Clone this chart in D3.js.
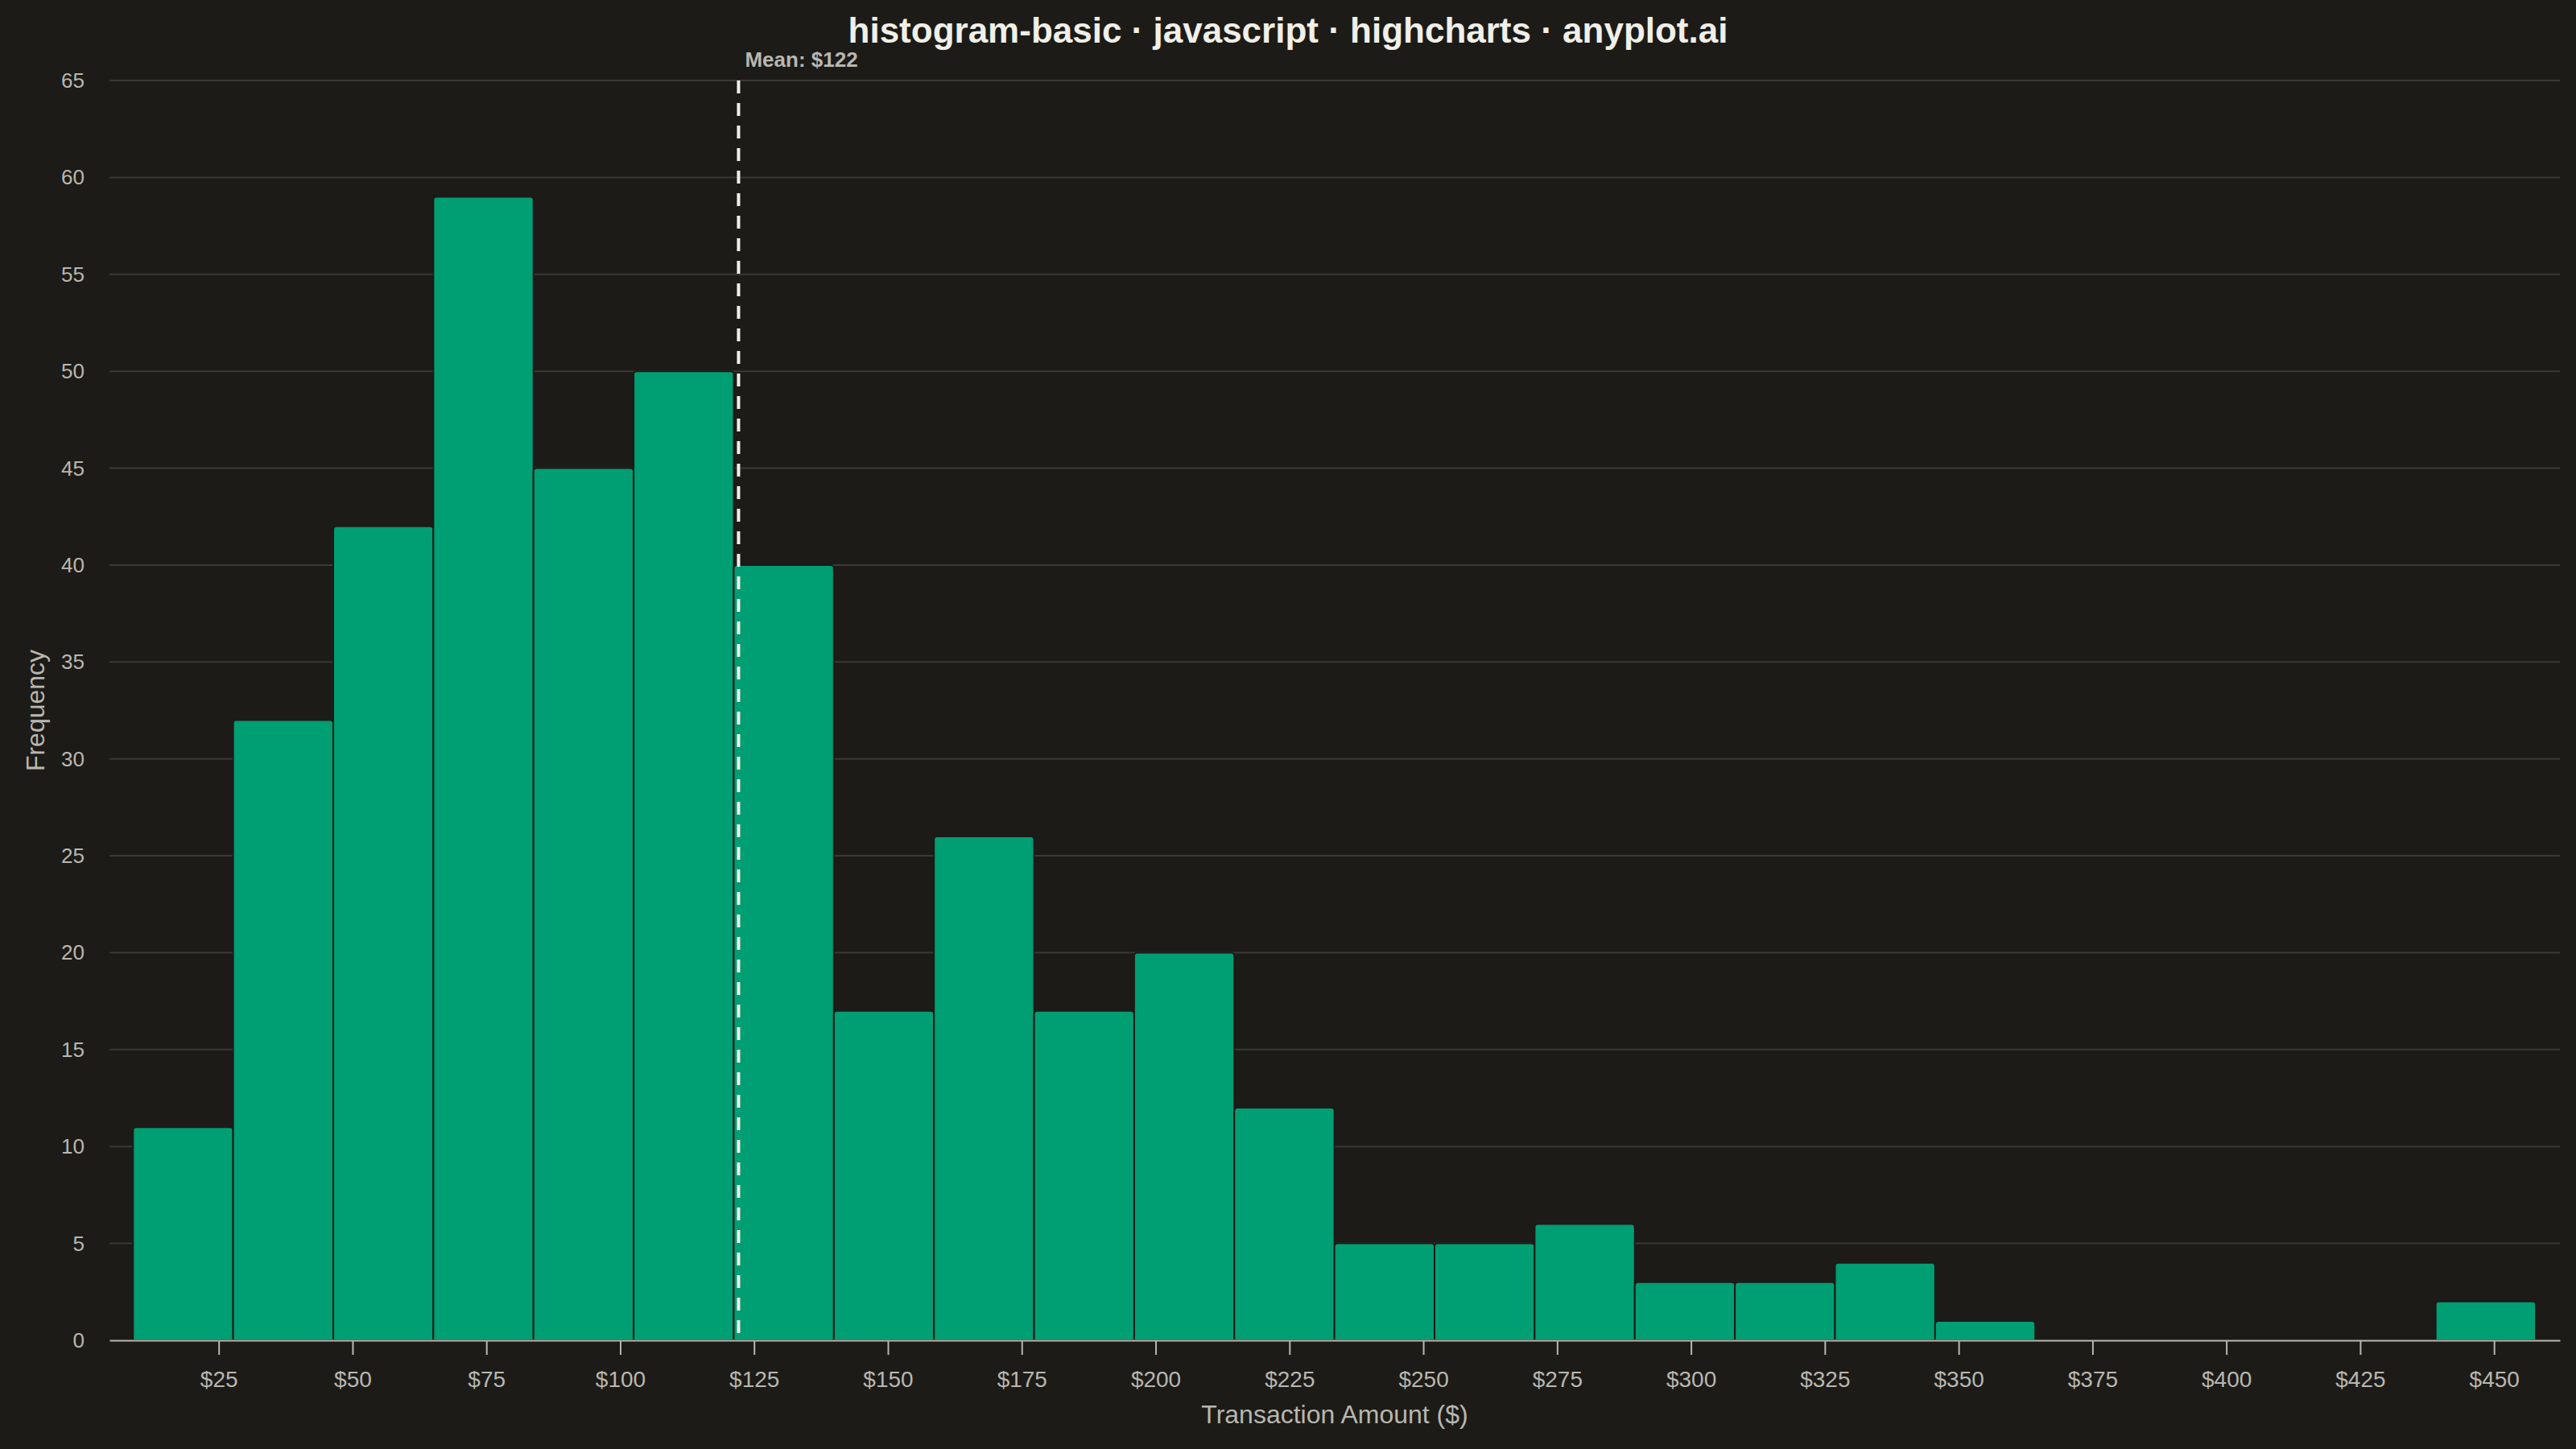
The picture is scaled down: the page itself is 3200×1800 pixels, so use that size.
<!DOCTYPE html>
<html>
<head>
<meta charset="utf-8">
<script src="https://cdn.jsdelivr.net/npm/d3@7"></script>
<style>
  html, body { margin: 0; padding: 0; background: #1c1b17; }
  #chart { width: 3200px; height: 1800px; }
  text { font-family: "Liberation Sans", Arial, Helvetica, sans-serif; }
</style>
</head>
<body>
<div id="chart"></div>
<script>
// histogram bins
const binStarts = [9.0, 27.7, 46.4, 65.1, 83.8, 102.5, 121.2, 139.9, 158.6, 177.3, 196.0, 214.7,
                   233.4, 252.1, 270.8, 289.5, 308.2, 326.9, 345.6, 364.3, 383.0, 401.7, 420.4, 439.1];
const binEnds = [27.7, 46.4, 65.1, 83.8, 102.5, 121.2, 139.9, 158.6, 177.3, 196.0, 214.7, 233.4,
                 252.1, 270.8, 289.5, 308.2, 326.9, 345.6, 364.3, 383.0, 401.7, 420.4, 439.1, 457.8];
const counts = [11, 32, 42, 59, 45, 50, 40, 17, 26, 17, 20, 12, 5, 5, 6, 3, 3, 4, 1, 0, 0, 0, 0, 2];
const xTicks = [25, 50, 75, 100, 125, 150, 175, 200, 225, 250, 275, 300, 325, 350, 375, 400, 425, 450];
const yTicks = [0, 5, 10, 15, 20, 25, 30, 35, 40, 45, 50, 55, 60, 65];
const xDomain = [4.6, 462.3];
const meanValue = 122.1;

const titleText = 'histogram-basic · javascript · highcharts · anyplot.ai';

const W = 3200, H = 1800;
const margin = { top: 100, right: 20, bottom: 135, left: 136 };
const innerW = W - margin.left - margin.right;
const innerH = H - margin.top - margin.bottom;

const BG = '#1c1b17';
const BAR = '#009e73';
const GRID = '#3a3935';
const AXIS = '#b8b7b0';
const INK = '#f0efe8';

const svg = d3.select('#chart')
  .append('svg')
  .attr('width', W)
  .attr('height', H);

svg.append('rect').attr('width', W).attr('height', H).attr('fill', BG);

const g = svg.append('g').attr('transform', `translate(${margin.left},${margin.top})`);

const x = d3.scaleLinear().domain(xDomain).range([0, innerW]);
const y = d3.scaleLinear().domain([0, 65]).range([innerH, 0]);

// gridlines
g.append('g')
  .selectAll('line')
  .data(yTicks.filter(d => d > 0))
  .enter()
  .append('line')
  .attr('x1', 0)
  .attr('x2', innerW)
  .attr('y1', d => y(d))
  .attr('y2', d => y(d))
  .attr('stroke', GRID)
  .attr('stroke-width', 2);

// y labels
g.append('g')
  .selectAll('text')
  .data(yTicks)
  .enter()
  .append('text')
  .attr('x', -31)
  .attr('y', d => y(d) + 9)
  .attr('text-anchor', 'end')
  .attr('font-size', '26px')
  .attr('fill', AXIS)
  .text(d => d);

// bars with rounded top corners
const bins = counts.map((c, i) => ({ x0: binStarts[i], x1: binEnds[i], count: c }));
const r = 4;
function barPath(d) {
  const x0 = x(d.x0), x1 = x(d.x1), y0 = y(0), y1 = y(d.count);
  const rr = Math.min(r, (y0 - y1));
  return `M${x0},${y0} V${y1 + rr} Q${x0},${y1} ${x0 + rr},${y1} H${x1 - rr} Q${x1},${y1} ${x1},${y1 + rr} V${y0} Z`;
}

g.append('g')
  .selectAll('path')
  .data(bins.filter(d => d.count > 0))
  .enter()
  .append('path')
  .attr('d', barPath)
  .attr('fill', BAR)
  .attr('stroke', BG)
  .attr('stroke-width', 2);

// x axis
const xAxis = g.append('g')
  .attr('transform', `translate(0,${innerH})`)
  .call(d3.axisBottom(x)
    .tickValues(xTicks)
    .tickSizeInner(18)
    .tickSizeOuter(0)
    .tickPadding(20)
    .tickFormat(d => `$${d}`));
xAxis.select('.domain').attr('stroke', AXIS).attr('stroke-width', 2);
xAxis.selectAll('.tick line').attr('stroke', AXIS).attr('stroke-width', 2);
xAxis.selectAll('.tick text')
  .attr('fill', AXIS)
  .attr('font-size', '28px')
  .attr('font-family', '"Liberation Sans", Arial, sans-serif');

// mean line
g.append('line')
  .attr('x1', x(meanValue))
  .attr('x2', x(meanValue))
  .attr('y1', 0)
  .attr('y2', innerH - 8)
  .attr('stroke', INK)
  .attr('stroke-width', 4)
  .attr('stroke-dasharray', '16,12');

g.append('text')
  .attr('x', x(meanValue) + 8)
  .attr('y', -17)
  .attr('font-size', '26px')
  .attr('font-weight', 'bold')
  .attr('fill', AXIS)
  .text(`Mean: $${Math.round(meanValue)}`);

// axis titles
svg.append('text')
  .attr('x', margin.left + innerW / 2)
  .attr('y', 1768)
  .attr('text-anchor', 'middle')
  .attr('font-size', '32px')
  .attr('fill', AXIS)
  .text('Transaction Amount ($)');

svg.append('text')
  .attr('transform', `translate(55,${margin.top + innerH / 2}) rotate(-90)`)
  .attr('text-anchor', 'middle')
  .attr('font-size', '32px')
  .attr('fill', AXIS)
  .text('Frequency');

// title
svg.append('text')
  .attr('x', W / 2)
  .attr('y', 53)
  .attr('text-anchor', 'middle')
  .attr('font-size', '44px')
  .attr('font-weight', 'bold')
  .attr('fill', INK)
  .text(titleText);
</script>
</body>
</html>
